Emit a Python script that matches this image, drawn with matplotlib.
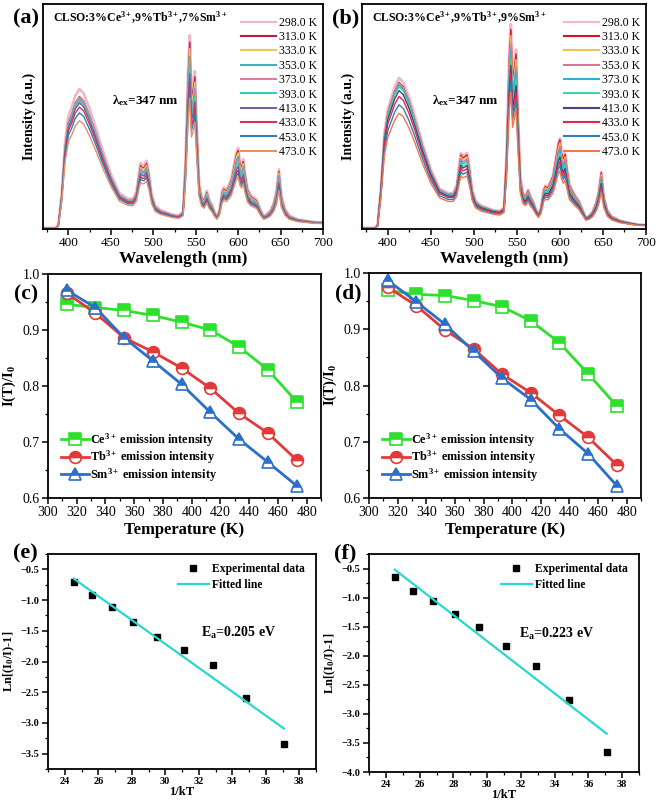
import numpy as np
import matplotlib
matplotlib.use("Agg")
import matplotlib.pyplot as plt
from matplotlib.ticker import MultipleLocator

plt.rcParams['font.family'] = ['Liberation Serif', 'DejaVu Serif']
plt.rcParams['mathtext.fontset'] = 'custom'
plt.rcParams['mathtext.rm'] = 'Liberation Serif:bold'
plt.rcParams['mathtext.bf'] = 'Liberation Serif:bold'
plt.rcParams['mathtext.it'] = 'Liberation Serif:italic:bold'
plt.rcParams['axes.linewidth'] = 1.3

# ---------------- data ----------------
temps = [298, 313, 333, 353, 373, 393, 413, 433, 453, 473]
temp_labels = ['298.0 K', '313.0 K', '333.0 K', '353.0 K', '373.0 K',
               '393.0 K', '413.0 K', '433.0 K', '453.0 K', '473.0 K']
colors_a = ['#f2b6cc', '#c0203a', '#f0c850', '#40b0c8', '#e07aa0',
            '#30d0b8', '#7060a8', '#d83050', '#2f7fb8', '#e8906a']
colors_b = ['#f4b8cc', '#d8102a', '#f2c050', '#d87898', '#30b0d8',
            '#40d8a0', '#4a3f88', '#e02848', '#3080b8', '#f07850']

wl = [370, 385, 388, 392, 396, 400, 404, 408, 413, 418,
      425, 432, 440, 450, 460, 470, 476, 480, 483, 485,
      487, 489, 492, 495, 498, 502, 508, 515, 522, 530,
      535, 538, 541, 543, 545, 547, 549, 551, 554, 557,
      560, 563, 566, 569, 572, 575, 578, 581, 583, 586,
      589, 592, 595, 598, 600, 602, 604, 606, 608, 611,
      615, 619, 622, 626, 630, 634, 638, 642, 645, 648,
      651, 655, 660, 670, 680, 690, 700]

# spectral components of the 298 K spectrum, panel (a)
ce_a = [0, 0, 0.01, 0.15, 0.38, 0.50, 0.54, 0.59, 0.62, 0.60,
        0.53, 0.45, 0.35, 0.24, 0.155, 0.13, 0.12, 0.11, 0.105, 0.10,
        0.10, 0.095, 0.09, 0.085, 0.08, 0.075, 0.07, 0.065, 0.06, 0.055,
        0.052, 0.05, 0.05, 0.05, 0.05, 0.05, 0.05, 0.05, 0.048, 0.047,
        0.046, 0.045, 0.044, 0.043, 0.042, 0.041, 0.04, 0.04, 0.04, 0.04,
        0.04, 0.04, 0.038, 0.038, 0.037, 0.037, 0.036, 0.036, 0.036, 0.035,
        0.035, 0.034, 0.034, 0.033, 0.032, 0.032, 0.032, 0.031, 0.031, 0.031,
        0.03, 0.03, 0.03, 0.028, 0.027, 0.026, 0.025]
tb_a = [0, 0, 0, 0, 0, 0, 0, 0, 0, 0,
        0, 0, 0, 0, 0, 0, 0.01, 0.05, 0.135, 0.19,
        0.18, 0.185, 0.21, 0.155, 0.07, 0.025, 0.01, 0.005, 0, 0,
        0.02, 0.25, 0.65, 0.81, 0.55, 0.59, 0.65, 0.43, 0.15, 0.08,
        0.06, 0.05, 0.04, 0.04, 0.02, 0.01, 0.03, 0.10, 0.12, 0.11,
        0.10, 0.06, 0.04, 0.02, 0.02, 0.02, 0.02, 0.02, 0.02, 0.02,
        0.05, 0.07, 0.07, 0.04, 0.02, 0.01, 0.005, 0, 0, 0,
        0, 0, 0, 0, 0, 0, 0]
sm_a = [0, 0, 0, 0, 0, 0, 0, 0, 0, 0,
        0, 0, 0, 0, 0, 0, 0, 0, 0, 0,
        0, 0, 0, 0, 0, 0, 0, 0, 0, 0,
        0, 0, 0, 0, 0, 0, 0, 0, 0, 0.01,
        0.02, 0.07, 0.04, 0.02, 0.01, 0, 0.01, 0.02, 0.02, 0.02,
        0.05, 0.12, 0.20, 0.28, 0.30, 0.24, 0.22, 0.25, 0.19, 0.12,
        0.06, 0.03, 0.02, 0.01, 0, 0.02, 0.04, 0.08, 0.13, 0.23,
        0.11, 0.055, 0.025, 0.01, 0.005, 0, 0]

# spectral components of the 298 K spectrum, panel (b)
ce_b = [0, 0, 0.01, 0.18, 0.42, 0.53, 0.58, 0.63, 0.67, 0.65,
        0.58, 0.49, 0.38, 0.26, 0.175, 0.155, 0.15, 0.14, 0.13, 0.125,
        0.12, 0.115, 0.11, 0.105, 0.10, 0.095, 0.09, 0.085, 0.08, 0.075,
        0.072, 0.07, 0.07, 0.07, 0.07, 0.068, 0.067, 0.066, 0.065, 0.064,
        0.062, 0.06, 0.058, 0.056, 0.054, 0.052, 0.05, 0.05, 0.049, 0.048,
        0.047, 0.047, 0.046, 0.046, 0.045, 0.045, 0.044, 0.044, 0.043, 0.043,
        0.042, 0.041, 0.04, 0.038, 0.036, 0.034, 0.033, 0.032, 0.031, 0.03,
        0.029, 0.028, 0.026, 0.022, 0.018, 0.015, 0.013]
tb_b = [0, 0, 0, 0, 0, 0, 0, 0, 0, 0,
        0, 0, 0, 0, 0, 0, 0.005, 0.05, 0.15, 0.21,
        0.20, 0.21, 0.225, 0.16, 0.07, 0.025, 0.01, 0.005, 0, 0,
        0.02, 0.27, 0.70, 0.84, 0.60, 0.66, 0.73, 0.48, 0.16, 0.08,
        0.06, 0.05, 0.045, 0.04, 0.02, 0.01, 0.03, 0.10, 0.12, 0.11,
        0.10, 0.06, 0.04, 0.02, 0.02, 0.02, 0.02, 0.02, 0.02, 0.02,
        0.05, 0.06, 0.06, 0.035, 0.01, 0, 0, 0, 0, 0,
        0, 0, 0, 0, 0, 0, 0]
sm_b = [0, 0, 0, 0, 0, 0, 0, 0, 0, 0,
        0, 0, 0, 0, 0, 0, 0, 0, 0, 0,
        0, 0, 0, 0, 0, 0, 0, 0, 0, 0,
        0, 0, 0, 0, 0, 0, 0, 0, 0, 0.01,
        0.02, 0.06, 0.035, 0.02, 0.01, 0, 0.01, 0.02, 0.02, 0.025,
        0.06, 0.13, 0.22, 0.31, 0.335, 0.27, 0.245, 0.27, 0.21, 0.13,
        0.07, 0.035, 0.02, 0.01, 0, 0.02, 0.04, 0.08, 0.13, 0.22,
        0.11, 0.05, 0.025, 0.01, 0.005, 0, 0]

# thermal quenching I(T)/I0
T_q = [313, 333, 353, 373, 393, 413, 433, 453, 473]
ce_c = [0.946, 0.940, 0.935, 0.926, 0.914, 0.900, 0.870, 0.829, 0.772]
tb_c = [0.966, 0.930, 0.886, 0.861, 0.832, 0.796, 0.751, 0.716, 0.668]
sm_c = [0.971, 0.940, 0.886, 0.845, 0.803, 0.753, 0.705, 0.664, 0.622]
ce_d = [0.969, 0.962, 0.960, 0.951, 0.940, 0.915, 0.876, 0.821, 0.764]
tb_d = [0.975, 0.942, 0.899, 0.865, 0.820, 0.787, 0.747, 0.708, 0.659]
sm_d = [0.987, 0.949, 0.909, 0.861, 0.813, 0.775, 0.723, 0.679, 0.622]

# activation energy plots
inv_kT = [24.53, 25.62, 26.80, 28.10, 29.53, 31.11, 32.87, 34.85, 37.08]
ln_e = [-0.70, -0.92, -1.11, -1.36, -1.60, -1.82, -2.05, -2.59, -3.34]
ln_f = [-0.65, -0.88, -1.06, -1.28, -1.51, -1.84, -2.18, -2.77, -3.65]
fit_x = [24.53, 37.08]
fit_e = [-0.65, -3.09]
fit_f = [-0.52, -3.34]

# ---------------- figure ----------------
W, H = 656, 800
fig = plt.figure(figsize=(W / 100, H / 100), dpi=100)


def add_ax(l, r, t, b):
    return fig.add_axes([l / W, 1 - b / H, (r - l) / W, (b - t) / H])


def style(ax):
    ax.tick_params(which='both', direction='out', top=False, right=False)
    ax.tick_params(which='major', length=4, width=1.1)
    ax.tick_params(which='minor', length=2.2, width=0.9)


def spectra(ax, ce, tb, sm, sce, stb, ssm, colors, title, tag):
    ce, tb, sm = np.array(ce), np.array(tb), np.array(sm)
    for i in range(len(temps)):
        y = ce * sce[i] + tb * stb[i] + sm * ssm[i]
        lw = 2.0 if i == 0 else 1.0
        ax.plot(wl, y, color=colors[i], lw=lw, label=temp_labels[i])
    ax.set_xlim(370, 700)
    ax.set_ylim(-0.005, 1.0)
    ax.set_yticks([])
    ax.xaxis.set_major_locator(MultipleLocator(50))
    ax.xaxis.set_minor_locator(MultipleLocator(25))
    style(ax)
    ax.tick_params(axis='x', labelsize=9.5, pad=2)
    ax.set_xlabel('Wavelength (nm)', fontsize=12.5, fontweight='bold', labelpad=1)
    ax.set_ylabel('Intensity (a.u.)', fontsize=10, fontweight='bold', labelpad=5)
    ax.text(0.035, 0.975, title, transform=ax.transAxes, fontsize=8.5,
            fontweight='bold', va='top', ha='left')
    ax.text(451, 0.57, r'λ$_{\mathbf{ex}}$=347 nm', fontsize=9.5,
            fontweight='bold', ha='left', va='center')
    leg = ax.legend(loc='upper right', bbox_to_anchor=(1.005, 0.975), frameon=False,
                    fontsize=8.5, handlelength=3.0, handletextpad=0.25,
                    labelspacing=0.2, borderaxespad=0.2)
    for h in leg.get_lines():
        h.set_linewidth(1.5)
    fig.text(ax.get_position().x0 - 30 / W, ax.get_position().y1 - 14 / H, tag,
             fontsize=16, fontweight='bold', ha='left', va='center')


ax_a = add_ax(43, 323, 4, 229)
spectra(ax_a, ce_a, tb_a, sm_a, [1.0] + ce_c, [1.0] + tb_c, [1.0] + sm_c, colors_a,
        r'CLSO:3%Ce$^{3+}$,9%Tb$^{3+}$,7%Sm$^{3+}$', '(a)')
ax_b = add_ax(362, 646, 4, 229)
spectra(ax_b, ce_b, tb_b, sm_b, [1.0] + ce_d, [1.0] + tb_d, [1.0] + sm_d, colors_b,
        r'CLSO:3%Ce$^{3+}$,9%Tb$^{3+}$,9%Sm$^{3+}$', '(b)')


def quench(ax, ce, tb, sm, tag):
    kw = dict(lw=2.0, ms=8.5, markeredgewidth=1.2, fillstyle='top',
              markerfacecoloralt='white')
    ax.plot(T_q, ce, marker='s', color='#2ee02e', label=r'Ce$^{3+}$ emission intensity', **kw)
    ax.plot(T_q, tb, marker='o', color='#e23a3a', label=r'Tb$^{3+}$ emission intensity', **kw)
    ax.plot(T_q, sm, marker='^', color='#2a6fc9', label=r'Sm$^{3+}$ emission intensity', **kw)
    ax.set_xlim(300, 490)
    ax.set_ylim(0.6, 1.0)
    ax.xaxis.set_major_locator(MultipleLocator(20))
    ax.xaxis.set_minor_locator(MultipleLocator(10))
    ax.yaxis.set_minor_locator(MultipleLocator(0.05))
    ax.set_yticks([0.6, 0.7, 0.8, 0.9, 1.0])
    ax.set_yticklabels(['0.6', '0.7', '0.8', '0.9', '1.0'])
    style(ax)
    ax.tick_params(labelsize=10, pad=2)
    ax.set_xlabel('Temperature (K)', fontsize=12, fontweight='bold', labelpad=2)
    ax.set_ylabel(r'I(T)/I$_{\mathbf{0}}$', fontsize=10.5, fontweight='bold', labelpad=3)
    ax.legend(loc='lower left', bbox_to_anchor=(0.02, 0.03), frameon=False,
              prop={'size': 8.8, 'weight': 'bold'}, handlelength=2.3,
              handletextpad=0.1, labelspacing=0.0, borderaxespad=0.2)
    fig.text(ax.get_position().x0 - 34 / W, ax.get_position().y1 - 20 / H, tag,
             fontsize=15.5, fontweight='bold', ha='left', va='center')


ax_c = add_ax(48, 321, 274, 498)
quench(ax_c, ce_c, tb_c, sm_c, '(c)')
ax_d = add_ax(369, 641, 273, 498)
quench(ax_d, ce_d, tb_d, sm_d, '(d)')


def arrh(ax, yv, fy, ylim, ea, ea_x, tag):
    ax.plot(inv_kT, yv, 's', color='black', ms=5, label='Experimental data')
    ax.plot(fit_x, fy, '-', color='#27d8d0', lw=1.6, label='Fitted line')
    ax.set_xlim(23, 39)
    ax.set_ylim(*ylim)
    ax.xaxis.set_major_locator(MultipleLocator(2))
    ax.xaxis.set_minor_locator(MultipleLocator(1))
    ax.yaxis.set_major_locator(MultipleLocator(0.5))
    ax.yaxis.set_minor_locator(MultipleLocator(0.25))
    style(ax)
    ax.tick_params(labelsize=7.5, pad=2)
    for lab in ax.get_xticklabels() + ax.get_yticklabels():
        lab.set_fontweight('bold')
    ax.set_xlabel('1/kT', fontsize=9, fontweight='bold', labelpad=0)
    ax.set_ylabel(r'Ln[(I$_{\mathbf{0}}$/I)-1]', fontsize=9, fontweight='bold', labelpad=3)
    ax.legend(loc='upper right', bbox_to_anchor=(0.985, 0.99), frameon=False,
              prop={'size': 8.4, 'weight': 'bold'}, handlelength=2.6,
              handletextpad=0.3, labelspacing=0.3, borderaxespad=0.2)
    ax.text(ea_x, 0.635, 'E$_{\\mathbf{a}}$=' + ea, transform=ax.transAxes,
            fontsize=10, fontweight='bold', ha='left', va='center')
    fig.text(ax.get_position().x0 - 35 / W, ax.get_position().y1 + 1 / H, tag,
             fontsize=16, fontweight='bold', ha='left', va='center')


ax_e = add_ax(48, 316, 554, 769)
arrh(ax_e, ln_e, fit_e, (-3.75, -0.25), '0.205 eV', 0.57, '(e)')
ax_f = add_ax(369, 639, 554, 772)
arrh(ax_f, ln_f, fit_f, (-4.0, -0.25), '0.223 eV', 0.555, '(f)')

fig.savefig('out.png', dpi=100)
